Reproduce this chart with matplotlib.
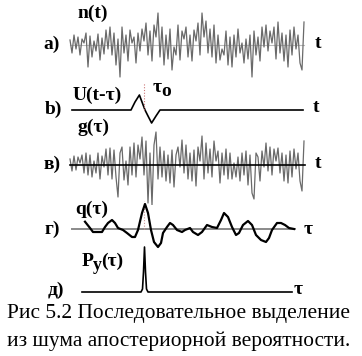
import numpy as np
import matplotlib
matplotlib.use("Agg")
import matplotlib.pyplot as plt

# ---------------- data ----------------
# a) noise n(t), samples on a uniform grid
noise_n = [5, -8, 10, -4, 8, -10, 6, 2, 12, -22,
           9, -12, 4, -6, 11, -15, 7, -9, 15, -4,
           18, -10, 12, -20, 6, -32, 18, -8, 10, -16,
           15, 2, 8, -18, 12, -6, 16, 4, 22, -10,
           14, -16, 20, 8, 32, -12, 18, -20, 10, -14,
           16, -25, -2, -10, 20, -15, 14, 6, 18, -12,
           10, -16, 15, 4, 22, -10, 32, 8, 24, -8,
           16, -12, 20, -18, 10, -15, -4, -10, 14, -20,
           8, -22, 10, -12, 16, -8, 2, -18, 6, -14,
           10, -32, 14, -10, 8, -16, 18, -2, 20, -6,
           14, 2, 18, -14, 23, -8, 12, -16, 10, -22,
           15, -10, 18, -4, 10, -18, -25, 23]

# b) signal U(t - tau)
t_u = [1, 30.5, 32.5, 34.7, 36, 37.5, 39, 40.8, 43, 45, 116.5]
u_vals = [0, 0, 8, 15, 8, 0, -6, -13, -6, 0, 0]
tau0 = 37.2

# в) g(tau) = noise + signal
noise_g = [6, -6, 9, -5, 8, 2, 10, -8, 12, -10,
           10, -12, 4, -8, 12, -14, 9, -2, 16, -10,
           17, -14, 15, -12, -32, 12, 18, -15, 4, -20,
           18, -10, 22, -12, 20, 6, 28, -10, 24, -38,
           12, -40, 20, 33, -14, 18, -12, 14, -16, 10,
           -18, 15, -22, 10, 18, -2, 25, -8, 20, -14,
           12, -16, 15, -21, 18, 4, 29, -14, 22, -8,
           16, -12, 24, 4, 14, -18, 12, -10, 16, -14,
           12, -14, 2, -12, 8, -16, 12, -10, 14, -20,
           10, -28, -34, 12, 8, -16, 14, -2, 22, -6,
           18, -10, 16, 4, 17, -8, 12, -16, 10, -18,
           14, -12, 16, -4, 12, -16, -26, 24]

# г) correlation q(tau)
tau_q = [7.5, 10, 11.5, 14, 16, 17.5, 19, 21, 22.5, 24,
         26.5, 28.5, 31, 32.5, 34, 36, 37.5, 39, 40.5, 42,
         44, 45.5, 46.5, 48.5, 50, 51.5, 53.5, 56, 57.5, 60,
         61.5, 64, 66, 68.5, 71, 73.5, 75.5, 77, 79, 81,
         83, 84.5, 86.5, 89, 91, 93, 95.5, 98, 99.5, 101,
         103.5, 105.5, 107.5, 109.5, 112]
q_vals = [7.3, 1, -3, -3, -3, 2, 6, 9, 6, 1,
          -1, -4, -8, -8, -1, 16, 25, 16, -1, -13,
          -18, -14, -4, 2, 6, 4, -1, -3, -1, 1,
          -3, -6, -3, 4, 2, 1, 9, 16, 12, 2,
          -6, -4, 4, 8, 4, -6, -11, -13, -9, -1,
          6, 6, 4, 1, 0]

# д) posterior probability P_y(tau)
tau_p = [6, 35.5, 36.25, 36.75, 37.25, 37.75, 38.25, 39, 111]
p_vals = [0, 0, 3, 20, 45, 20, 3, 0, 0]

caption1 = "Рис 5.2 Последовательное выделение"
caption2 = "из шума апостериорной вероятности."

# ---------------- figure ----------------
W, H = 362, 356
fig = plt.figure(figsize=(W / 100, H / 100), dpi=100)
fig.patch.set_facecolor("white")

X0_PX, X1_PX = 60, 310      # panel horizontal extent in pixels
XLIM = (-5, 120)


def panel(top_px, bot_px, ylim):
    ax = fig.add_axes([X0_PX / W, 1 - bot_px / H,
                       (X1_PX - X0_PX) / W, (bot_px - top_px) / H])
    ax.set_xlim(*XLIM)
    ax.set_ylim(*ylim)
    ax.axis("off")
    return ax


idx_n = np.arange(len(noise_n))
idx_g = np.arange(len(noise_g))

# a)
ax_a = panel(8, 82, (-37, 37))
ax_a.plot([0, 117], [0, 0], color="#bbbbbb", lw=0.8)
ax_a.plot(idx_n, noise_n, color="#6a6a6a", lw=0.9)

# b)
ax_b = panel(80, 130, (-20, 30))
ax_b.plot(t_u, u_vals, color="black", lw=1.2)
ax_b.plot([tau0, tau0], [0, 27], color="#cc7777", lw=0.8, ls=(0, (1, 1.5)))

# в)
ax_v = panel(125, 205, (-40, 40))
ax_v.plot(idx_g, noise_g, color="#6a6a6a", lw=0.9)
ax_v.plot([0, 117.5], [0, 0], color="black", lw=1.2)

# г)
ax_g = panel(200, 255, (-26, 29))
ax_g.plot([1, 112.5], [0, 0], color="#8a8a8a", lw=1.4)
ax_g.plot([tau0, tau0], [0, 28], color="#cc9999", lw=0.8, ls=(0, (1, 1.5)))
ax_g.plot(tau_q, q_vals, color="black", lw=1.6, solid_joinstyle="round")

# д)
ax_d = panel(244, 298, (-6, 48))
ax_d.plot(tau_p, p_vals, color="black", lw=1.2)

# ---------------- text overlay ----------------
ax0 = fig.add_axes([0, 0, 1, 1])
ax0.set_xlim(0, W)
ax0.set_ylim(H, 0)
ax0.axis("off")

lab = dict(family="Liberation Serif", weight="bold", fontsize=14,
           ha="center", va="center", color="black")

ax0.text(93, 13, "n(t)", **lab)
ax0.text(52, 44, "а)", **lab)
ax0.text(318, 44, "t", **lab)

ax0.text(97, 95, "U(t-τ)", **lab)
ax0.text(53, 109, "b)", **lab)
ax0.text(316, 108, "t", **lab)
ax0.text(157, 88, "τ", **lab)
ax0.text(166, 91, "o", **lab)

ax0.text(94, 127, "g(τ)", **lab)
ax0.text(52, 164, "в)", **lab)
ax0.text(318, 164, "t", **lab)

ax0.text(92, 209, "q(τ)", **lab)
ax0.text(52, 229, "г)", **lab)
ax0.text(308, 229, "τ", **lab)

ax0.text(88, 261, "P", **lab)
ax0.text(97, 266, "y", **dict(lab, fontsize=13))
ax0.text(101, 261, "(τ)", **dict(lab, ha="left"))
ax0.text(56, 290, "д)", **lab)
ax0.text(298, 290, "τ", **lab)

cap = dict(family="Liberation Serif", fontsize=15.4, ha="left",
           va="baseline", color="black")
ax0.text(7, 318, caption1, **cap)
ax0.text(7, 346, caption2, **cap)

fig.savefig("out.png", dpi=100, facecolor="white")
